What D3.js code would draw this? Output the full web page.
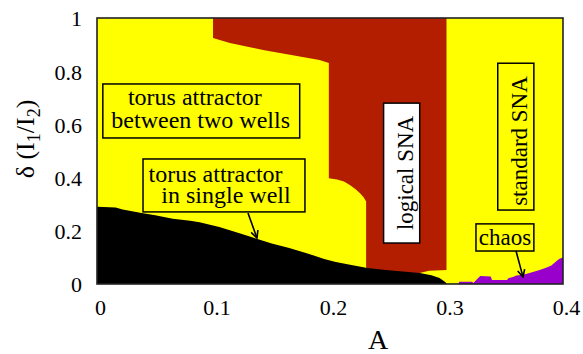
<!DOCTYPE html>
<html>
<head>
<meta charset="utf-8">
<script src="https://cdn.jsdelivr.net/npm/d3@7"></script>
<style>
  body { margin: 0; background: #fff; }
  svg { display: block; }
</style>
</head>
<body>
<svg id="chart" width="583" height="354"></svg>
<script>
// Axis ticks
const xTicks = [0, 0.1, 0.2, 0.3, 0.4];
const yTicks = [0, 0.2, 0.4, 0.6, 0.8, 1];

// Upper edge of the torus-in-single-well region (black), from A = 0 to 0.3
const singleWellA     = [0, 0.016, 0.022, 0.037, 0.05, 0.065, 0.08, 0.088, 0.105, 0.123, 0.137, 0.15, 0.165, 0.18, 0.195, 0.205, 0.215, 0.232, 0.25, 0.265, 0.277, 0.287, 0.294, 0.298, 0.3];
const singleWellDelta = [0.29, 0.288, 0.28, 0.268, 0.258, 0.245, 0.238, 0.232, 0.214, 0.19, 0.17, 0.152, 0.135, 0.116, 0.094, 0.083, 0.074, 0.06, 0.052, 0.046, 0.041, 0.033, 0.023, 0.01, 0.003];

// Outline of the logical SNA region (dark red)
const logicalA     = [0.0996, 0.3, 0.3, 0.285, 0.277, 0.231, 0.231, 0.229, 0.226, 0.222, 0.217, 0.212, 0.206, 0.199, 0.199, 0.191, 0.1425, 0.114, 0.0996];
const logicalDelta = [1, 1, 0.053, 0.05, 0.041, 0.03, 0.31, 0.325, 0.34, 0.356, 0.372, 0.385, 0.393, 0.398, 0.831, 0.842, 0.88, 0.906, 0.925];

// Upper edge of the chaotic region (purple) along the bottom axis
const chaosA     = [0.31, 0.311, 0.322, 0.323, 0.327, 0.329, 0.338, 0.339, 0.352, 0.353, 0.357, 0.36, 0.366, 0.372, 0.38, 0.386, 0.39, 0.394, 0.397, 0.4];
const chaosDelta = [0, 0.008, 0.008, 0.004, 0.022, 0.03, 0.028, 0.015, 0.015, 0.022, 0.026, 0.032, 0.035, 0.042, 0.053, 0.062, 0.07, 0.085, 0.095, 0.1];

const colors = {
  torusTwoWells: "#ffff00",
  torusSingle: "#000000",
  logical: "#b41e00",
  chaos: "#9900cc",
  frame: "#222222"
};
const serif = "'Liberation Serif', 'DejaVu Serif', 'Times New Roman', serif";

// Labelled boxes (positions in data units: a0..a1, d0..d1)
const boxes = [
  { lines: ["torus attractor", "between two wells"], a0: 0.005, a1: 0.174, d0: 0.549, d1: 0.752, fill: "#ffff00",
    lineA: [0.084, 0.089], lineD: [0.674, 0.587] },
  { lines: ["torus attractor", "in single well"], a0: 0.0395, a1: 0.1785, d0: 0.271, d1: 0.47, fill: "#ffff00",
    lineA: [0.1018, 0.1107], lineD: [0.384, 0.303] }
];
const rotatedBoxes = [
  { text: "logical SNA", a0: 0.246, a1: 0.277, d0: 0.154, d1: 0.68, fill: "#ffffff", textA: 0.2712, textD: 0.4175 },
  { text: "standard SNA", a0: 0.344, a1: 0.375, d0: 0.278, d1: 0.83, fill: "#ffff00", textA: 0.3693, textD: 0.5375 }
];
const chaosBox = { text: "chaos", a0: 0.3253, a1: 0.375, d0: 0.124, d1: 0.226, fill: "#ffff00", textA: 0.3502, textD: 0.147 };

// Arrows: [fromA, fromD, toA, toD]
const arrows = [
  [0.1296, 0.267, 0.1373, 0.173],
  [0.3597, 0.124, 0.3657, 0.026]
];

const svg = d3.select("#chart").attr("font-family", serif);
const margin = { left: 97, top: 18, right: 20, bottom: 70 };
const W = 583, H = 354;
const x = d3.scaleLinear().domain([0, 0.4]).range([margin.left, W - margin.right]);
const y = d3.scaleLinear().domain([0, 1]).range([H - margin.bottom, margin.top]);

const plot = svg.append("g");
plot.append("clipPath").attr("id", "clip")
  .append("rect").attr("x", x(0)).attr("y", y(1)).attr("width", x(0.4) - x(0)).attr("height", y(0) - y(1));
const regions = plot.append("g").attr("clip-path", "url(#clip)");

// background: torus attractor between two wells / standard SNA (yellow)
regions.append("rect")
  .attr("x", x(0)).attr("y", y(1)).attr("width", x(0.4) - x(0)).attr("height", y(0) - y(1))
  .attr("fill", colors.torusTwoWells);

const line = d3.line().x(d => x(d[0])).y(d => y(d[1]));

// logical SNA
regions.append("path")
  .attr("d", line(d3.zip(logicalA, logicalDelta)) + "Z")
  .attr("fill", colors.logical);

// torus attractor in a single well
const swPts = [[0, 0], ...d3.zip(singleWellA, singleWellDelta), [0.3, 0]];
regions.append("path")
  .attr("d", line(swPts) + "Z")
  .attr("fill", colors.torusSingle);

// chaos
const chPts = [...d3.zip(chaosA, chaosDelta), [0.4, 0]];
regions.append("path")
  .attr("d", line(chPts) + "Z")
  .attr("fill", colors.chaos);

// frame
svg.append("rect")
  .attr("x", x(0)).attr("y", y(1)).attr("width", x(0.4) - x(0)).attr("height", y(0) - y(1))
  .attr("fill", "none").attr("stroke", colors.frame).attr("stroke-width", 1.6);

// axes
const xAxis = svg.append("g").attr("transform", `translate(0,${y(0)})`)
  .call(d3.axisBottom(x).tickValues(xTicks).tickSize(0).tickPadding(15).tickFormat(d3.format("~g")));
const yAxis = svg.append("g").attr("transform", `translate(${x(0)},0)`)
  .call(d3.axisLeft(y).tickValues(yTicks).tickSize(0).tickPadding(15).tickFormat(d3.format("~g")));
[xAxis, yAxis].forEach(g => {
  g.attr("font-family", serif).attr("font-size", 22);
  g.select(".domain").remove();
  g.selectAll("text").attr("fill", "#000");
});
xAxis.selectAll("text").attr("dx", 3);
yAxis.selectAll("text").attr("dy", "0.36em");

// axis titles
svg.append("text").attr("x", 378).attr("y", 349).attr("text-anchor", "middle")
  .attr("font-size", 28).text("A");
const yt = svg.append("text").attr("transform", "translate(34,139) rotate(-90)")
  .attr("text-anchor", "middle").attr("font-size", 26);
yt.append("tspan").text("δ (I");
yt.append("tspan").attr("font-size", 18).attr("dy", 6).text("1");
yt.append("tspan").attr("dy", -6).text("/I");
yt.append("tspan").attr("font-size", 18).attr("dy", 6).text("2");
yt.append("tspan").attr("dy", -6).text(")");

// annotation boxes
const ann = svg.append("g");
boxes.forEach(b => {
  ann.append("rect")
    .attr("x", x(b.a0)).attr("y", y(b.d1)).attr("width", x(b.a1) - x(b.a0)).attr("height", y(b.d0) - y(b.d1))
    .attr("fill", b.fill).attr("stroke", "#000").attr("stroke-width", 1.5);
  b.lines.forEach((t, i) => {
    ann.append("text").attr("x", x(b.lineA[i])).attr("y", y(b.lineD[i]))
      .attr("text-anchor", "middle").attr("font-size", 24).text(t);
  });
});
rotatedBoxes.forEach(b => {
  ann.append("rect")
    .attr("x", x(b.a0)).attr("y", y(b.d1)).attr("width", x(b.a1) - x(b.a0)).attr("height", y(b.d0) - y(b.d1))
    .attr("fill", b.fill).attr("stroke", "#000").attr("stroke-width", 1.5);
  ann.append("text").attr("transform", `translate(${x(b.textA)},${y(b.textD)}) rotate(-90)`)
    .attr("text-anchor", "middle").attr("font-size", 23).text(b.text);
});
ann.append("rect")
  .attr("x", x(chaosBox.a0)).attr("y", y(chaosBox.d1)).attr("width", x(chaosBox.a1) - x(chaosBox.a0)).attr("height", y(chaosBox.d0) - y(chaosBox.d1))
  .attr("fill", chaosBox.fill).attr("stroke", "#000").attr("stroke-width", 1.5);
ann.append("text").attr("x", x(chaosBox.textA)).attr("y", y(chaosBox.textD))
  .attr("text-anchor", "middle").attr("font-size", 23).text(chaosBox.text);

// arrows
svg.append("defs").append("marker")
  .attr("id", "head").attr("viewBox", "0 0 10 10").attr("refX", 9).attr("refY", 5)
  .attr("markerWidth", 9).attr("markerHeight", 9).attr("markerUnits", "userSpaceOnUse").attr("orient", "auto")
  .append("path").attr("d", "M1,1 L9,5 L1,9").attr("fill", "none").attr("stroke", "#000").attr("stroke-width", 1.8);
arrows.forEach(a => {
  ann.append("line")
    .attr("x1", x(a[0])).attr("y1", y(a[1])).attr("x2", x(a[2])).attr("y2", y(a[3]))
    .attr("stroke", "#000").attr("stroke-width", 1.6).attr("marker-end", "url(#head)");
});
</script>
</body>
</html>
